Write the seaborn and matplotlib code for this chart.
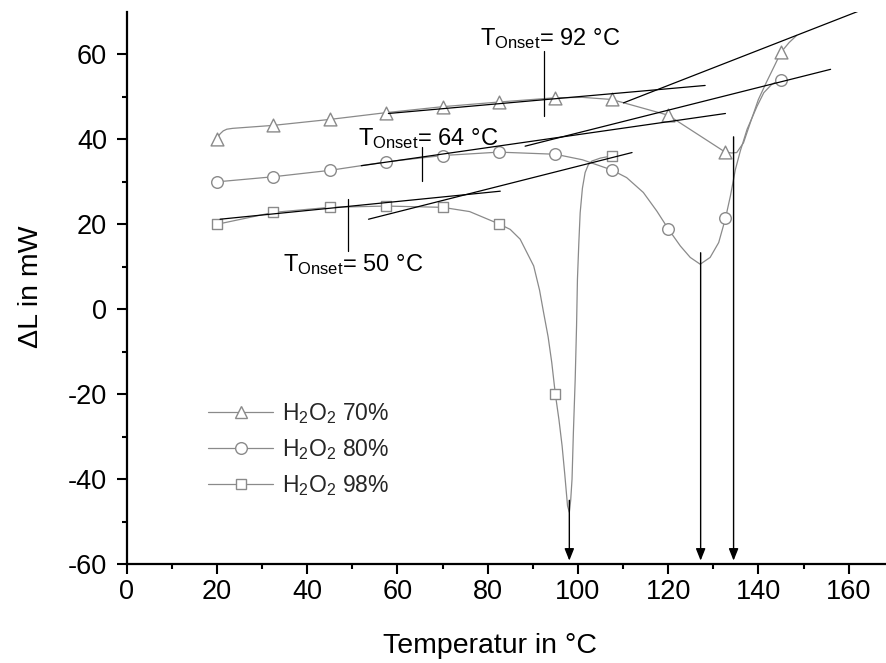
import numpy as np
import pandas as pd
import matplotlib
matplotlib.use("Agg")
import matplotlib.pyplot as plt
from matplotlib.lines import Line2D
import seaborn as sns

# ---------------- data ----------------
temps = [20, 32.5, 45, 57.5, 70, 82.5, 95, 107.5, 120, 132.5, 145]
h2o2_70 = [40.2, 43.3, 44.7, 46.3, 47.7, 48.8, 49.8, 49.4, 45.7, 37.1, 60.5]
h2o2_80 = [30.0, 31.2, 32.7, 34.7, 36.2, 37.0, 36.5, 32.8, 18.8, 21.4, 54.1]
temps_98 = [20, 32.5, 45, 57.5, 70, 82.5, 95, 107.5]
h2o2_98 = [20.0, 22.8, 24.0, 24.3, 24.0, 20.1, -20.0, 36.1]

# traced smooth curves (read along the gray lines of the reference)
curve70_x = [20, 20.7, 21.4, 22.2, 23.5, 32.5, 45, 57.5, 70, 82.5, 95, 101, 107.5, 120,
             132.5, 134.0, 135.2, 136.7, 138.2, 140.0, 141.8, 143.5, 145, 146.8, 148.5]
curve70_y = [40.2, 41.3, 42.0, 42.4, 42.6, 43.3, 44.7, 46.3, 47.7, 48.8, 49.8, 49.9, 49.4, 45.7,
             37.1, 36.8, 36.9, 39.2, 43.9, 49.4, 53.5, 57.2, 60.5, 62.8, 64.5]
curve80_x = [20, 32.5, 45, 57.5, 70, 82.5, 95, 101, 107.5, 110.8, 114.5, 117.5, 120.1,
             122.7, 124.9, 127.1, 129.3, 131.2, 132.7, 133.8, 134.9, 136.0, 137.5,
             139.7, 141.2, 143.0, 145]
curve80_y = [30.0, 31.2, 32.7, 34.7, 36.2, 37.0, 36.5, 35.2, 32.8, 31.0, 27.5, 23.1, 18.8,
             14.9, 12.2, 10.6, 12.2, 15.7, 21.4, 26.7, 32.9, 37.3, 42.4,
             47.8, 51.0, 53.0, 54.1]
curve98_x = [20, 32.5, 45, 57.5, 70, 76, 82.5, 85, 87.2, 90.2, 91.5, 92.4, 93.4, 94.2, 95,
             95.8, 96.5, 97.1, 97.7, 98.1, 98.4, 98.7, 99.0, 99.4, 99.7, 99.9, 100.2,
             100.5, 101.0, 101.6, 102.3, 103.1, 105, 107.5]
curve98_y = [20.0, 22.8, 24.0, 24.3, 24.0, 23.0, 20.1, 18.8, 16.5, 10.2, 4.5, -0.8, -6.5, -12.5,
             -20.0, -26.0, -32.2, -39.0, -46.3, -47.8, -45.0, -40.0, -29.0, -16.5, -4.0, 7.1,
             15.5, 22.7, 28.5, 32.2, 34.0, 34.9, 35.6, 36.1]

# tangent lines: (x0, y0, x1, y1)
tangents = [
    (58.0, 46.1, 128.2, 52.7),
    (110.1, 48.6, 162.2, 70.2),
    (52.0, 33.8, 132.7, 46.1),
    (88.3, 38.4, 156.0, 56.5),
    (20.7, 21.2, 82.8, 27.8),
    (53.6, 21.2, 112.0, 36.9),
]
# onset markers: (x, y_low, y_high)
onset_marks = [(92.4, 45.5, 60.8), (65.4, 30.2, 38.1), (49.1, 13.7, 25.9)]
onset_labels = [r"T$_{\mathrm{Onset}}$= 92 °C", r"T$_{\mathrm{Onset}}$= 64 °C",
                r"T$_{\mathrm{Onset}}$= 50 °C"]
onset_label_pos = [(78.4, 62.1), (51.3, 38.6), (34.7, 8.9)]
# peak arrows: (x, y_start)
peak_arrows = [(98.1, -45.0), (127.2, 13.3), (134.5, 40.6)]

series_labels = [r"H$_2$O$_2$ 70%", r"H$_2$O$_2$ 80%", r"H$_2$O$_2$ 98%"]

# ---------------- style ----------------
sns.set_theme(style="ticks")
plt.rcParams["font.family"] = ["Liberation Sans", "DejaVu Sans"]
plt.rcParams["mathtext.fontset"] = "custom"
plt.rcParams["mathtext.rm"] = "Liberation Sans"
plt.rcParams["mathtext.it"] = "Liberation Sans:italic"
plt.rcParams["mathtext.bf"] = "Liberation Sans:bold"

gray = "#8a8a8a"
fig = plt.figure(figsize=(8.87, 6.63), dpi=100)
ax = fig.add_axes([0.1428, 0.1493, 0.8572, 0.8326])

# curves
for cx, cy in [(curve70_x, curve70_y), (curve80_x, curve80_y), (curve98_x, curve98_y)]:
    sns.lineplot(x=cx, y=cy, ax=ax, color=gray, lw=0.9, sort=False, estimator=None, zorder=2)

# markers
sns.scatterplot(x=temps, y=h2o2_70, ax=ax, marker="^", s=85, facecolor="white",
                edgecolor=gray, linewidth=1.0, zorder=3)
sns.scatterplot(x=temps, y=h2o2_80, ax=ax, marker="o", s=70, facecolor="white",
                edgecolor=gray, linewidth=1.0, zorder=3)
sns.scatterplot(x=temps_98, y=h2o2_98, ax=ax, marker="s", s=55, facecolor="white",
                edgecolor=gray, linewidth=1.0, zorder=3)

# tangents
for x0, y0, x1, y1 in tangents:
    sns.lineplot(x=[x0, x1], y=[y0, y1], ax=ax, color="black", lw=0.9, zorder=4)
for x, ylo, yhi in onset_marks:
    sns.lineplot(x=[x, x], y=[ylo, yhi], ax=ax, color="black", lw=0.9, zorder=4,
                 sort=False, estimator=None)
for (tx, ty), lab in zip(onset_label_pos, onset_labels):
    ax.text(tx, ty, lab, fontsize=17, color="black", ha="left", va="baseline", zorder=5)

for x, ys in peak_arrows:
    ax.annotate("", xy=(x, -59.2), xytext=(x, ys),
                arrowprops=dict(arrowstyle="-|>,head_length=0.6,head_width=0.24",
                                color="black", lw=1.0, shrinkA=0, shrinkB=0), zorder=5)

# axes
ax.set_xlim(0, 168.5)
ax.set_ylim(-60, 70)
ax.set_xticks(np.arange(0, 161, 20))
ax.set_xticks(np.arange(10, 170, 20), minor=True)
ax.set_yticks(np.arange(-60, 61, 20))
ax.set_yticks(np.arange(-50, 70, 20), minor=True)
ax.set_yticklabels([str(v) for v in range(-60, 61, 20)])
sns.despine(ax=ax)
for s in ["left", "bottom"]:
    ax.spines[s].set_linewidth(1.6)
    ax.spines[s].set_color("black")
ax.tick_params(which="major", direction="out", length=7, width=1.5, labelsize=19.5,
               color="black", labelcolor="black")
ax.tick_params(axis="x", which="major", pad=4)
ax.tick_params(axis="y", which="major", pad=7)
ax.tick_params(which="minor", direction="out", length=3.6, width=1.5, color="black")
ax.set_facecolor("white")
fig.patch.set_facecolor("white")

ax.set_xlabel("Temperatur in °C", fontsize=20.5, color="black")
ax.set_ylabel("ΔL in mW", fontsize=20.5, color="black")
ax.xaxis.set_label_coords(0.478, -0.125)
ax.yaxis.set_label_coords(-0.109, 0.502)

handles = [
    Line2D([], [], color=gray, lw=0.9, marker="^", ms=9, mfc="white", mec=gray),
    Line2D([], [], color=gray, lw=0.9, marker="o", ms=8.4, mfc="white", mec=gray),
    Line2D([], [], color=gray, lw=0.9, marker="s", ms=7.4, mfc="white", mec=gray),
]
ax.legend(handles, series_labels, loc="upper left", bbox_to_anchor=(0.107, 0.295),
          frameon=False, fontsize=16.5, handlelength=2.85, handletextpad=0.36,
          labelspacing=0.48, borderpad=0, borderaxespad=0)

fig.savefig("out.png", dpi=100, facecolor="white")
